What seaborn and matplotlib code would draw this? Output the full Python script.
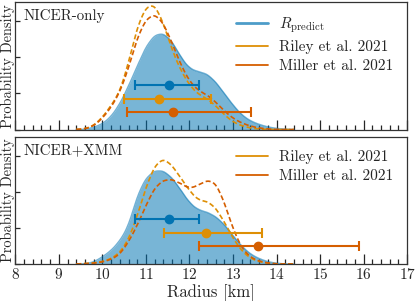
import numpy as np
import matplotlib
matplotlib.use("Agg")
import matplotlib.pyplot as plt
from matplotlib.lines import Line2D
from matplotlib.ticker import MultipleLocator
import seaborn as sns

# radius grid (km)
radius = [9.4, 9.6, 9.8, 10.0, 10.2, 10.4, 10.6, 10.8, 11.0, 11.2, 11.4, 11.6,
          11.8, 12.0, 12.2, 12.4, 12.6, 12.8, 13.0, 13.2, 13.4, 13.6, 13.8,
          14.0, 14.2, 14.4]

# NICER-only panel (probability density read at each radius)
pred_top = [0.0, 0.0, 0.012, 0.03, 0.07, 0.14, 0.24, 0.35, 0.46, 0.525, 0.535,
            0.49, 0.40, 0.335, 0.32, 0.31, 0.265, 0.20, 0.135, 0.08, 0.047,
            0.028, 0.014, 0.006, 0.002, 0.0]
riley_top = [0.0, 0.003, 0.02, 0.065, 0.13, 0.20, 0.36, 0.56, 0.67, 0.685,
             0.58, 0.43, 0.32, 0.24, 0.19, 0.17, 0.13, 0.08, 0.04, 0.02,
             0.008, 0.003, 0.0, 0.0, 0.0, 0.0]
miller_top = [0.0, 0.003, 0.018, 0.06, 0.12, 0.20, 0.33, 0.50, 0.60, 0.63,
              0.58, 0.47, 0.35, 0.26, 0.21, 0.19, 0.15, 0.10, 0.06, 0.035,
              0.018, 0.008, 0.003, 0.0, 0.0, 0.0]

# NICER+XMM panel
pred_bot = [0.0, 0.0, 0.01, 0.04, 0.075, 0.13, 0.21, 0.39, 0.49, 0.53, 0.53,
            0.49, 0.42, 0.345, 0.305, 0.295, 0.27, 0.225, 0.16, 0.10, 0.055,
            0.03, 0.012, 0.004, 0.0, 0.0]
riley_bot = [0.0, 0.002, 0.006, 0.012, 0.028, 0.06, 0.13, 0.26, 0.42, 0.54,
             0.58, 0.54, 0.47, 0.40, 0.345, 0.345, 0.31, 0.23, 0.14, 0.07,
             0.03, 0.012, 0.004, 0.0, 0.0, 0.0]
miller_bot = [0.0, 0.001, 0.004, 0.01, 0.025, 0.05, 0.12, 0.21, 0.32, 0.42,
              0.46, 0.465, 0.44, 0.41, 0.43, 0.46, 0.45, 0.34, 0.19, 0.085,
              0.035, 0.015, 0.005, 0.0, 0.0, 0.0]

# error bars: (median, lower, upper)
pred_err = [11.53, 10.75, 12.22]
riley_err_top = [11.29, 10.50, 12.49]
miller_err_top = [11.62, 10.56, 13.41]
riley_err_bot = [12.39, 11.42, 13.67]
miller_err_bot = [13.58, 12.22, 15.90]

# heights of the error bars (density units)
err_y = [0.247, 0.17, 0.097]

sns.set_theme(style="ticks", palette="colorblind")
plt.rcParams["font.family"] = ["cmr10", "DejaVu Serif"]
plt.rcParams["mathtext.fontset"] = "cm"
plt.rcParams["axes.formatter.use_mathtext"] = True
plt.rcParams["font.size"] = 10.8

pal = sns.color_palette("colorblind")
c_pred, c_riley, c_miller = pal[0], pal[1], pal[3]

fig, (ax1, ax2) = plt.subplots(2, 1, figsize=(4.15, 3.01), dpi=100, sharex=True)
fig.subplots_adjust(left=0.037, right=0.981, top=0.993, bottom=0.123, hspace=0.055)

SMOOTH = 0.12  # km, kernel width used to smooth the read-off densities


def bw(w):
    mu = np.average(radius, weights=w)
    sd = np.sqrt(np.average((np.array(radius) - mu) ** 2, weights=w))
    return SMOOTH / sd


def panel(ax, pred, riley, miller, r_err, m_err, name, show_pred_legend):
    kw = dict(x=radius, ax=ax, cut=0, gridsize=300)
    sns.kdeplot(weights=pred, bw_method=bw(pred), fill=True, color=c_pred,
                alpha=0.53, lw=0, **kw)
    sns.kdeplot(weights=pred, bw_method=bw(pred), color=c_pred, alpha=0.55,
                lw=1, **kw)
    sns.kdeplot(weights=riley, bw_method=bw(riley), color=c_riley, lw=1.2,
                dashes=(3, 1.6), **kw)
    sns.kdeplot(weights=miller, bw_method=bw(miller), color=c_miller, lw=1.2,
                dashes=(3, 1.6), **kw)

    for err, y, c in [(pred_err, err_y[0], c_pred), (r_err, err_y[1], c_riley),
                      (m_err, err_y[2], c_miller)]:
        ax.errorbar([err[0]], [y], xerr=[[err[0] - err[1]], [err[2] - err[0]]],
                    fmt="o", color=c, ms=6, elinewidth=1.5, capsize=3.5,
                    capthick=1.5)

    ax.set_xlim(8, 17)
    ax.set_ylim(0, 0.705)
    ax.xaxis.set_major_locator(MultipleLocator(1))
    ax.xaxis.set_minor_locator(MultipleLocator(0.2))
    ax.yaxis.set_major_locator(MultipleLocator(0.2))
    ax.tick_params(axis="x", which="major", direction="in", length=7, width=0.9,
                   pad=2.5)
    ax.tick_params(axis="x", which="minor", direction="in", length=3.5, width=0.9)
    ax.tick_params(axis="y", which="major", direction="in", length=3.5, width=0.9,
                   labelleft=False)
    ax.set_ylabel("Probability Density", labelpad=0.5, fontsize=10.4)
    for s in ax.spines.values():
        s.set_linewidth(0.9)
        s.set_color("#333333")

    ax.text(0.02, 0.945, name, transform=ax.transAxes, va="top", ha="left")

    handles, labels = [], []
    if show_pred_legend:
        handles.append(Line2D([], [], color=c_pred, alpha=0.7, lw=2))
        labels.append(r"$R_{\rm predict}$")
    handles.append(Line2D([], [], color=c_riley, lw=1.3))
    labels.append("Riley et al. 2021")
    handles.append(Line2D([], [], color=c_miller, lw=1.3))
    labels.append("Miller et al. 2021")
    ax.legend(handles, labels, loc="upper right", frameon=False,
              handlelength=2.1, handletextpad=0.75, labelspacing=0.33)


panel(ax1, pred_top, riley_top, miller_top, riley_err_top, miller_err_top,
      "NICER-only", True)
panel(ax2, pred_bot, riley_bot, miller_bot, riley_err_bot, miller_err_bot,
      "NICER+XMM", False)

ax1.tick_params(axis="x", labelbottom=False)
ax1.set_xlabel("")
ax2.set_xlabel("Radius [km]", labelpad=1)

fig.savefig("out.png", dpi=100)
